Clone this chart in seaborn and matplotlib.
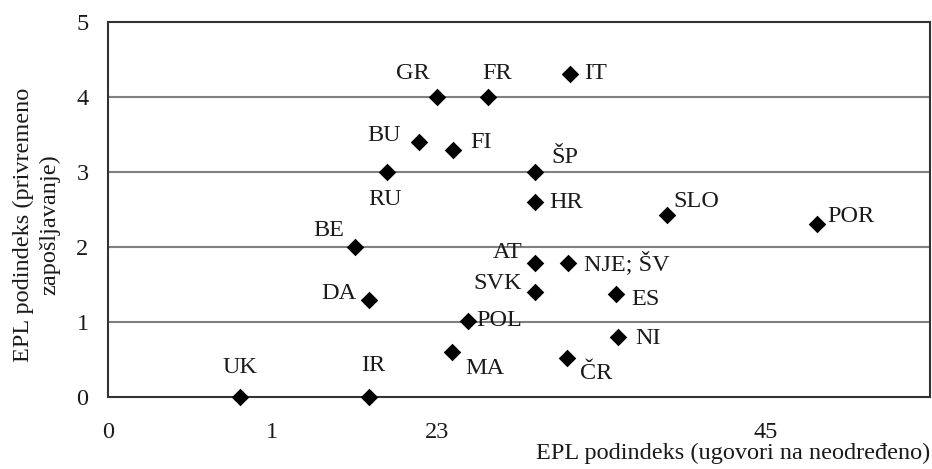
import matplotlib
matplotlib.use("Agg")
import matplotlib.pyplot as plt
import seaborn as sns
import pandas as pd

# Daten
zemlje = ["UK", "IR", "MA", "ČR", "POL", "DA", "SVK", "AT", "NJE; ŠV", "BE",
          "ES", "NI", "SLO", "POR", "GR", "FR", "IT", "BU", "FI", "RU", "ŠP", "HR"]
epl_neodredeno = [0.80, 1.59, 2.09, 2.79, 2.19, 1.59, 2.60, 2.60, 2.80, 1.50,
                  3.09, 3.10, 3.40, 4.31, 2.00, 2.31, 2.81, 1.89, 2.10, 1.70, 2.60, 2.60]
epl_privremeno = [0.00, 0.00, 0.60, 0.52, 1.02, 1.29, 1.40, 1.79, 1.79, 2.00,
                  1.38, 0.80, 2.43, 2.31, 4.00, 4.00, 4.31, 3.40, 3.29, 3.00, 3.00, 2.60]

x_ticks = [0, 1, 2, 3, 4, 5]
x_tick_labels = ["0", "1", "23", "", "45", ""]

df = pd.DataFrame({"zemlja": zemlje, "x": epl_neodredeno, "y": epl_privremeno})

# Pozicije oznaka (pomak u pikselima, poravnanje)
oznake = {
    "UK": (0, 30, "center"), "IR": (4, 32, "center"), "MA": (14, -16, "left"),
    "ČR": (13, -15, "left"), "POL": (8, 0, "left"), "DA": (-13, 7, "right"),
    "SVK": (-14, 9, "right"), "AT": (-13, 10, "right"), "NJE; ŠV": (16, 0, "left"),
    "BE": (-10, 17, "right"), "ES": (15, -6, "left"), "NI": (18, -1, "left"),
    "SLO": (6, 13, "left"), "POR": (11, 7, "left"), "GR": (-24, 24, "center"),
    "FR": (9, 24, "center"), "IT": (14, 0, "left"), "BU": (-18, 7, "right"),
    "FI": (17, 8, "left"), "RU": (-2, -27, "center"), "ŠP": (16, 15, "left"),
    "HR": (14, 0, "left"),
}

fs = 17.5
sns.set_style("white")
plt.rcParams["font.family"] = ["Liberation Serif", "DejaVu Serif"]
plt.rcParams["font.size"] = fs

fig = plt.figure(figsize=(9.32, 4.69), dpi=100)
ax = fig.add_axes([108 / 932, 1 - 397 / 469, 822 / 932, 375 / 469])

for yv in [1, 2, 3, 4]:
    ax.axhline(yv, color="#808080", linewidth=1.5, zorder=1)

sns.scatterplot(data=df, x="x", y="y", marker="D", s=80, color="black",
                edgecolor="black", linewidth=0, ax=ax, zorder=3, clip_on=False)

for z, xv, yv in zip(zemlje, epl_neodredeno, epl_privremeno):
    dx, dy, ha = oznake[z]
    ax.annotate(z, (xv, yv), xytext=(dx * 0.72, dy * 0.72), textcoords="offset points",
                ha=ha, va="center", fontsize=fs, color="#1a1a1a")

ax.set_xlim(0, 5)
ax.set_ylim(0, 5)
ax.set_xticks(x_ticks)
ax.set_xticklabels(x_tick_labels)
ax.set_yticks([0, 1, 2, 3, 4, 5])
ax.tick_params(axis="both", direction="out", length=6, width=1.2, color="#333333",
               labelsize=fs, labelcolor="#1a1a1a")
ax.tick_params(axis="x", pad=12)
ax.tick_params(axis="y", pad=8)

for sp in ax.spines.values():
    sp.set_visible(True)
    sp.set_color("#333333")
    sp.set_linewidth(1.5)

ax.set_xlabel("EPL podindeks (ugovori na neodređeno)", loc="right", fontsize=fs,
              color="#1a1a1a", labelpad=0)
ax.set_ylabel("EPL podindeks (privremeno\nzapošljavanje)", fontsize=fs,
              color="#1a1a1a", linespacing=1.3)
ax.yaxis.set_label_coords(-0.058, 0.46)

fig.savefig("out.png", dpi=100)
